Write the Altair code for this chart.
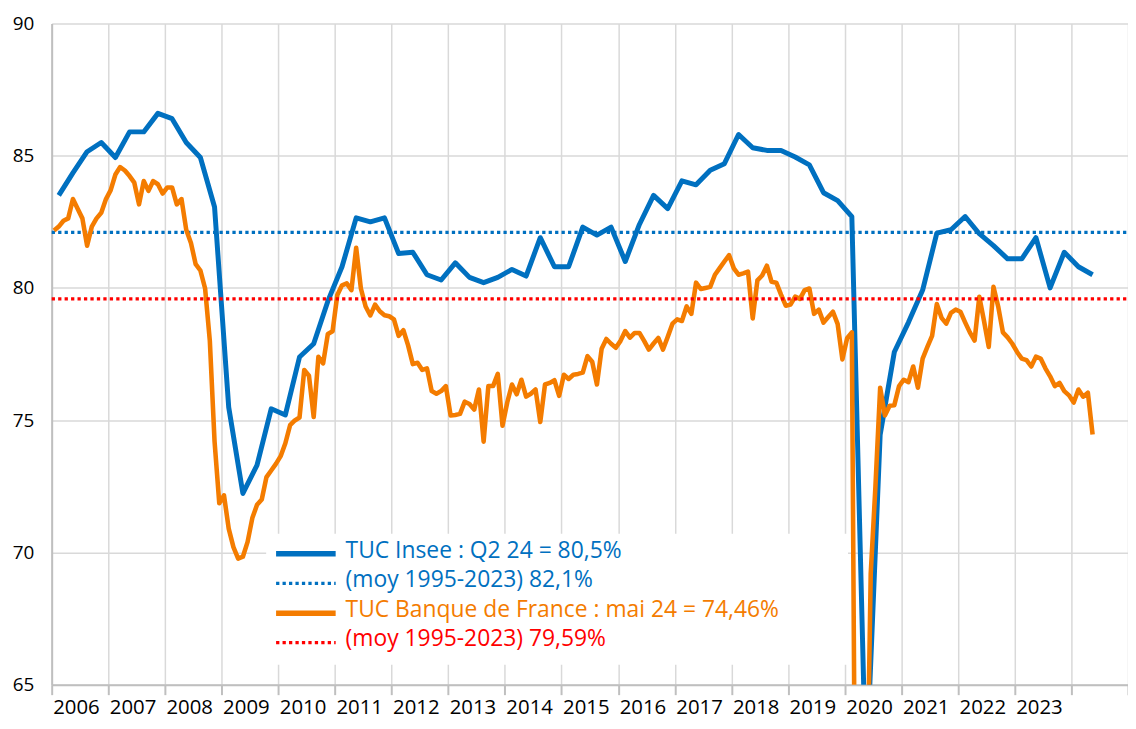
import altair as alt
import pandas as pd

# ---------------- data ----------------
year_ticks = list(range(2006, 2026))
last_labelled_year = 2023

insee_start = 2006  # quarterly, from Q1 2006
insee_q = [
    83.5, 84.35, 85.15, 85.5,
    84.93, 85.9, 85.9, 86.6,
    86.4, 85.5, 84.93, 83.06,
    75.49, 72.23, 73.3, 75.43,
    75.2, 77.39, 77.89, 79.5,
    80.8, 82.65, 82.5, 82.65,
    81.3, 81.35, 80.5, 80.3,
    80.95, 80.4, 80.2, 80.4,
    80.7, 80.45, 81.9, 80.8,
    80.8, 82.3, 82.0, 82.3,
    81.0, 82.4, 83.5, 83.0,
    84.05, 83.9, 84.45, 84.7,
    85.8, 85.3, 85.2, 85.2,
    84.95, 84.65, 83.6, 83.3,
    82.7, 61.5, 74.45, 77.58,
    78.7, 79.92, 82.07, 82.2,
    82.7, 82.05, 81.6, 81.1,
    81.1, 81.9, 80.0, 81.35,
    80.8, 80.5,
]

bdf_start = 2006  # monthly, from January 2006
bdf_m = [
    82.17, 82.32, 82.54, 82.63, 83.36, 82.99, 82.63, 81.6, 82.32, 82.63, 82.84, 83.36,
    83.7, 84.29, 84.57, 84.44, 84.23, 83.98, 83.16, 84.04, 83.67, 84.04, 83.92, 83.57,
    83.8, 83.8, 83.16, 83.36, 82.2, 81.7, 80.9, 80.66, 79.98, 78.0, 74.2, 71.86,
    72.16, 70.9, 70.2, 69.77, 69.84, 70.4, 71.3, 71.8, 72.0, 72.85, 73.1, 73.35,
    73.64, 74.13, 74.81, 74.99, 75.1, 76.9, 76.68, 75.12, 77.4, 77.15, 78.26, 78.36,
    79.73, 80.1, 80.17, 79.92, 81.52, 79.98, 79.3, 78.96, 79.37, 79.12, 78.97, 78.93,
    78.81, 78.19, 78.4, 77.83, 77.12, 77.17, 76.9, 76.96, 76.1, 76.0, 76.1, 76.29,
    75.18, 75.2, 75.24, 75.7, 75.61, 75.4, 76.16, 74.19, 76.29, 76.29, 76.75, 74.79,
    75.67, 76.35, 75.98, 76.53, 75.89, 76.0, 76.16, 74.93, 76.35, 76.41, 76.51, 75.92,
    76.72, 76.56, 76.72, 76.75, 76.8, 77.42, 77.21, 76.35, 77.7, 78.07, 77.89, 77.74,
    78.0, 78.37, 78.12, 78.3, 78.3, 78.0, 77.67, 77.9, 78.11, 77.67, 78.15, 78.65,
    78.81, 78.75, 79.3, 79.02, 80.2, 79.96, 80.0, 80.04, 80.5, 80.75, 81.0, 81.24,
    80.74, 80.5, 80.55, 80.62, 78.85, 80.29, 80.47, 80.84, 80.23, 80.2, 79.75, 79.33,
    79.37, 79.67, 79.59, 79.92, 79.98, 79.02, 79.18, 78.69, 78.9, 79.1, 78.63, 77.3,
    78.1, 78.32, 51.0, 52.0, 58.0, 69.2, 72.5, 76.23, 75.18, 75.55, 75.57, 76.29,
    76.53, 76.44, 77.03, 76.23, 77.33, 77.77, 78.19, 79.39, 78.87, 78.65, 79.06, 79.18,
    79.1, 78.7, 78.32, 78.01, 79.67, 78.75, 77.77, 80.04, 79.3, 78.32, 78.13, 77.89,
    77.58, 77.33, 77.27, 77.03, 77.4, 77.33, 76.96, 76.66, 76.29, 76.41, 76.1, 75.94,
    75.67, 76.16, 75.89, 76.04, 74.46,
]

insee_avg = 82.1
bdf_avg = 79.59

legend_labels = [
    "TUC Insee : Q2 24 = 80,5%",
    "(moy 1995-2023) 82,1%",
    "TUC Banque de France : mai 24 = 74,46%",
    "(moy 1995-2023) 79,59%",
]

# ---------------- styles ----------------
BLUE = "#0070C0"
ORANGE = "#F47C00"
RED = "#FF0000"
GRID = "#D9D9D9"
AXIS = "#BFBFBF"
FONT = "Open Sans"

insee_df = pd.DataFrame({
    "t": [insee_start + (i + 0.5) / 4 for i in range(len(insee_q))],
    "v": insee_q,
})
bdf_df = pd.DataFrame({
    "t": [bdf_start + (i + 0.5) / 12 for i in range(len(bdf_m))],
    "v": bdf_m,
})
x0, x1 = year_ticks[0], year_ticks[-1]
insee_avg_df = pd.DataFrame({"t": [x0], "t2": [x1], "v": [insee_avg]})
bdf_avg_df = pd.DataFrame({"t": [x0], "t2": [x1], "v": [bdf_avg]})

x_scale = alt.Scale(domain=[x0, x1], nice=False, zero=False)
y_scale = alt.Scale(domain=[65, 90], nice=False, zero=False)

x_axis = alt.Axis(
    values=year_ticks,
    labelExpr=f"datum.value <= {last_labelled_year} ? toString(datum.value) : ''",
    title=None,
    grid=True, gridColor=GRID, gridWidth=1.5,
    domainColor=AXIS, domainWidth=2,
    ticks=True, tickColor=AXIS, tickSize=10, tickWidth=2,
    labelAlign="left", labelOffset=1, labelPadding=2.5,
    labelFontSize=20.5, labelFont=FONT, labelColor="#000000",
)
y_axis = alt.Axis(
    values=[65, 70, 75, 80, 85, 90],
    title=None,
    grid=True, gridColor=GRID, gridWidth=1.5,
    domainColor=AXIS, domainWidth=2,
    ticks=False, labelPadding=18,
    labelFontSize=19, labelFont=FONT, labelColor="#000000",
)

X = alt.X("t:Q", scale=x_scale, axis=x_axis)
Y = alt.Y("v:Q", scale=y_scale, axis=y_axis)

insee_line = alt.Chart(insee_df).mark_line(
    color=BLUE, strokeWidth=5, strokeJoin="round", clip=True
).encode(x=X, y=Y)

insee_avg_rule = alt.Chart(insee_avg_df).mark_rule(
    color=BLUE, strokeWidth=3.3, strokeDash=[3.3, 3.2]
).encode(x=X, x2="t2:Q", y=Y)

bdf_line = alt.Chart(bdf_df).mark_line(
    color=ORANGE, strokeWidth=4.6, strokeJoin="round", clip=True
).encode(x=X, y=Y)

bdf_avg_rule = alt.Chart(bdf_avg_df).mark_rule(
    color=RED, strokeWidth=3.3, strokeDash=[3.3, 3.2]
).encode(x=X, x2="t2:Q", y=Y)

# ---------------- manual legend ----------------
one = pd.DataFrame({"k": [0]})
legend_box = alt.Chart(one).mark_rect(color="white").encode(
    x=alt.value(216), x2=alt.value(802), y=alt.value(514), y2=alt.value(646)
)

legend_styles = [
    (BLUE, BLUE, None, 5.5),
    (BLUE, BLUE, [3.3, 3.2], 3.3),
    (ORANGE, ORANGE, None, 5.5),
    (RED, RED, [3.3, 3.2], 3.3),
]
sym_y = [534, 564, 594, 623.5]
txt_y = [531, 561, 591, 620.5]

legend_layers = [legend_box]
for lab, (scol, tcol, dash, sw), sy, ty in zip(legend_labels, legend_styles, sym_y, txt_y):
    rule_kwargs = dict(color=scol, strokeWidth=sw)
    if dash is not None:
        rule_kwargs["strokeDash"] = dash
    legend_layers.append(
        alt.Chart(one).mark_rule(**rule_kwargs).encode(
            x=alt.value(226), x2=alt.value(286), y=alt.value(sy)
        )
    )
    legend_layers.append(
        alt.Chart(pd.DataFrame({"label": [lab]})).mark_text(
            align="left", baseline="middle", fontSize=23, font=FONT, color=tcol
        ).encode(x=alt.value(296), y=alt.value(ty), text="label:N")
    )

chart = alt.layer(
    insee_line, insee_avg_rule, bdf_line, bdf_avg_rule, *legend_layers
).properties(
    width=1084,
    height=666,
    autosize=alt.AutoSizeParams(type="none"),
    padding={"left": 44, "top": 13, "right": 0, "bottom": 34},
    background="white",
).configure_view(stroke=None)

chart.save("out.html", embed_options={"renderer": "svg", "actions": False})
